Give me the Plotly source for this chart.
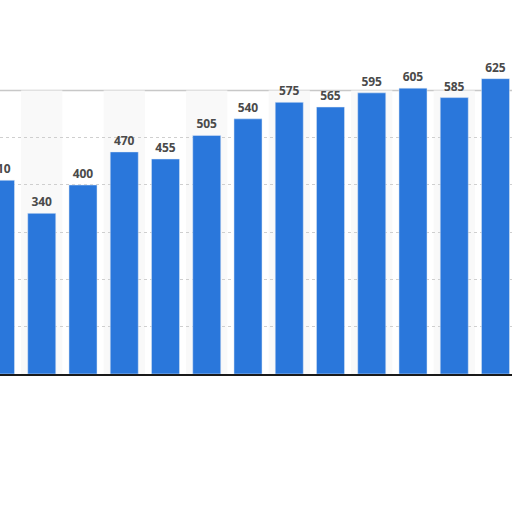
import plotly.graph_objs as go

# bar values, left to right (first bar is cut off at the left edge)
values = [410, 340, 400, 470, 455, 505, 540, 575, 565, 595, 605, 585, 625]
positions = list(range(len(values)))
labels = [str(v) for v in values]
grid_vals = [100, 200, 300, 400, 500]
frame_top = 600

fig = go.Figure(data=[
    go.Bar(x=positions, y=values, width=0.68, marker_color='#2a77db',
           text=labels, textposition='outside', cliponaxis=False,
           textfont=dict(family='Open Sans', size=12, color='#4a4a4a'),
           texttemplate='<b>%{text}</b>'),
])

# faint shaded columns behind every other bar
shapes = []
for i in positions:
    if i % 2 == 1:
        shapes.append(dict(type='rect', xref='x', yref='y', x0=i - 0.5, x1=i + 0.5,
                           y0=0, y1=frame_top, fillcolor='#f9f9f9', line_width=0, layer='below'))
# top edge of the plot frame
shapes.append(dict(type='line', xref='paper', yref='y', x0=0, x1=1, y0=frame_top, y1=frame_top,
                   line=dict(color='#c8c8c8', width=1.5), layer='below'))

fig.update_layout(
    width=512, height=512,
    margin=dict(l=0, r=0, t=0, b=138, autoexpand=False),
    paper_bgcolor='white', plot_bgcolor='white',
    showlegend=False,
    shapes=shapes,
    xaxis=dict(range=[-0.012, 12.40], showticklabels=False, showgrid=False, zeroline=False,
               showline=True, linecolor='#1a1a1a', linewidth=1.5, ticks=''),
    yaxis=dict(range=[0, 791.5], tickvals=grid_vals, showticklabels=False, showgrid=True,
               gridcolor='#cfcfcf', griddash='dot', gridwidth=1, zeroline=False, showline=False),
)
# drop the page's default body margin so the figure sits at the window corner
fig.write_html("out.html", config={'displayModeBar': False},
               post_script="document.body.style.margin='0';")
